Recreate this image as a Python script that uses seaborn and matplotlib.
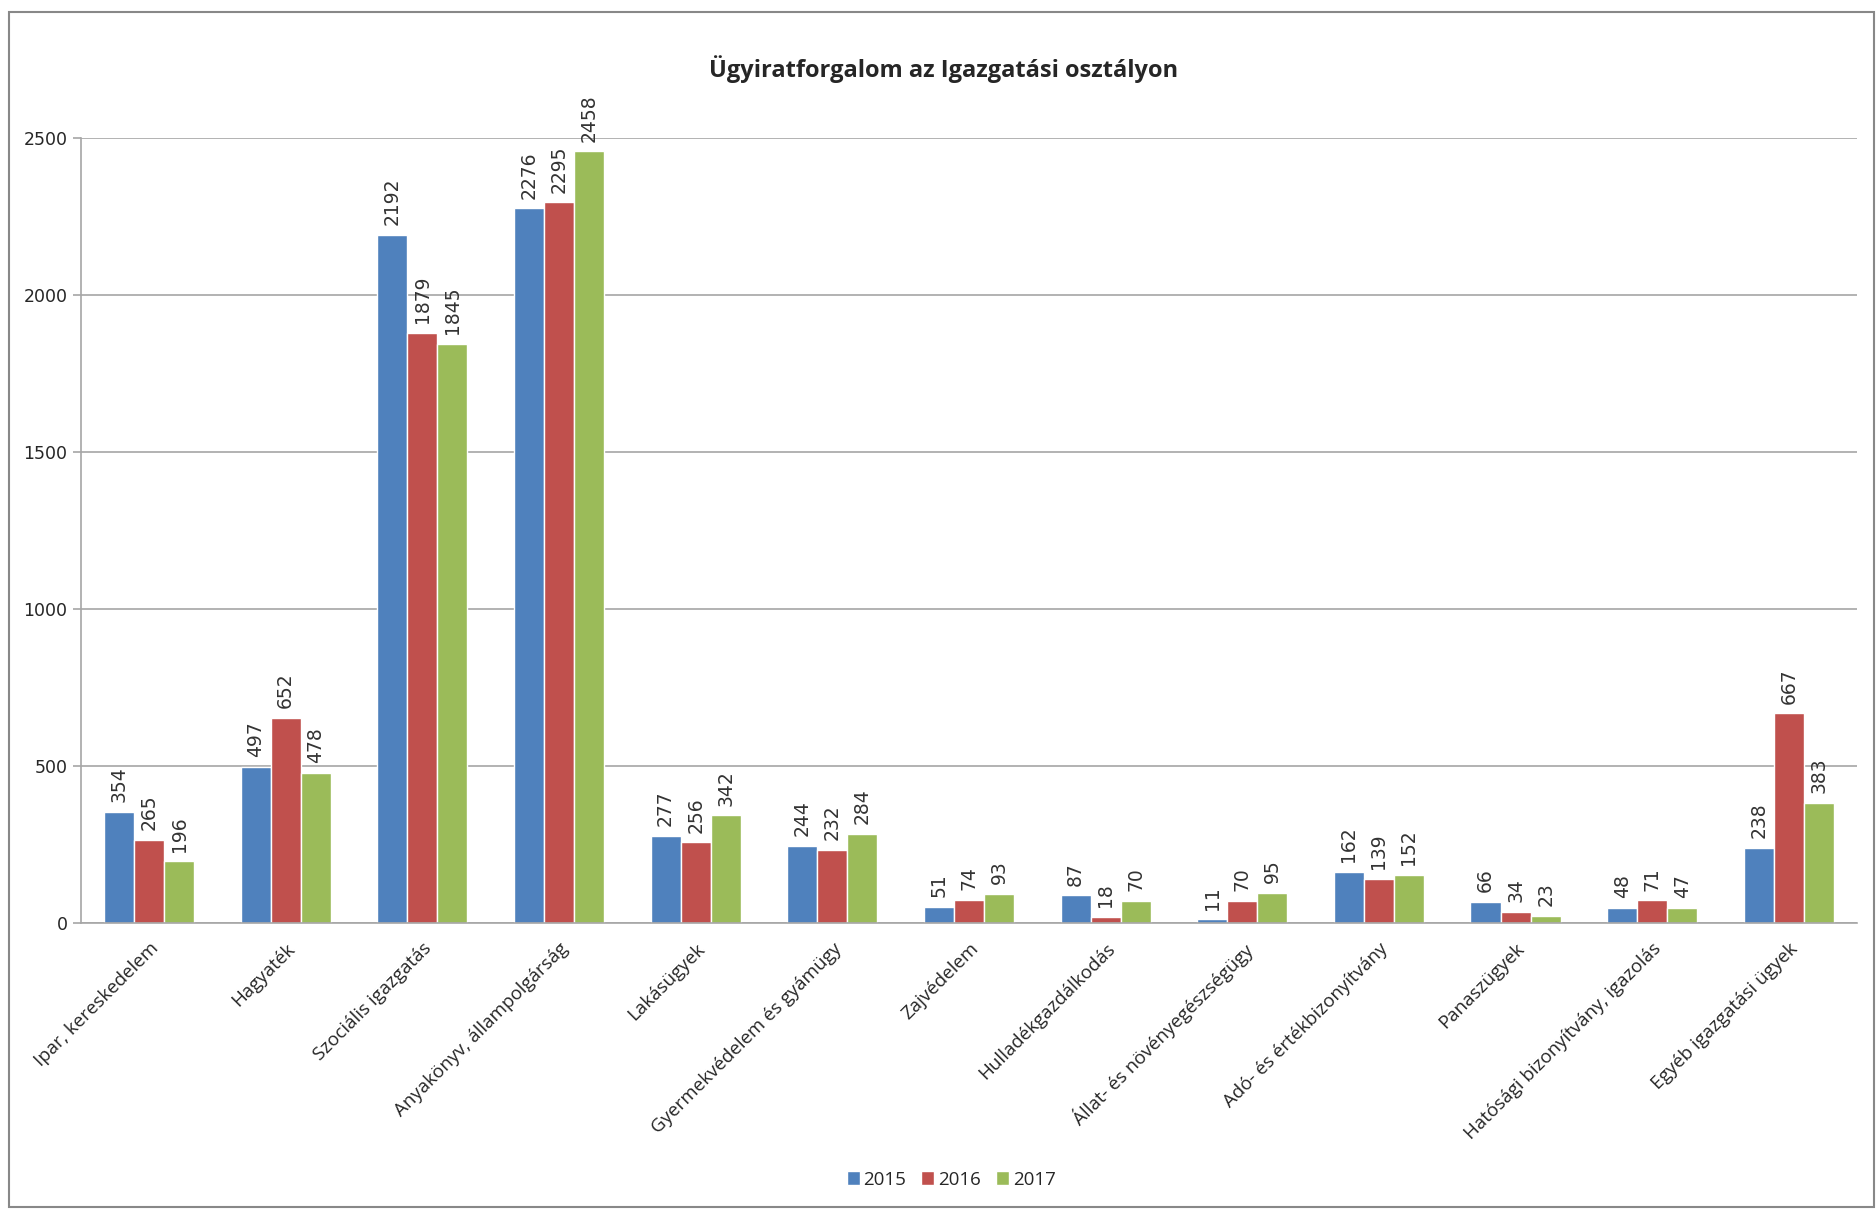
"""Ügyiratforgalom bar chart"""

import pandas as pd
import seaborn as sns
from matplotlib import pyplot as plt
from matplotlib.patches import Rectangle

categories = [
    "Ipar, kereskedelem", "Hagyaték", "Szociális igazgatás",
    "Anyakönyv, állampolgárság", "Lakásügyek", "Gyermekvédelem és gyámügy",
    "Zajvédelem", "Hulladékgazdálkodás", "Állat- és növényegészségügy",
    "Adó- és értékbizonyítvány", "Panaszügyek",
    "Hatósági bizonyítvány, igazolás", "Egyéb igazgatási ügyek",
]
years = ["2015", "2016", "2017"]
v2015 = [354, 497, 2192, 2276, 277, 244, 51, 87, 11, 162, 66, 48, 238]
v2016 = [265, 652, 1879, 2295, 256, 232, 74, 18, 70, 139, 34, 71, 667]
v2017 = [196, 478, 1845, 2458, 342, 284, 93, 70, 95, 152, 23, 47, 383]
yticks = [0, 500, 1000, 1500, 2000, 2500]
colors = ["#4F81BD", "#C0504D", "#9BBB59"]

df = pd.concat([
    pd.DataFrame({"cat": categories, "year": y, "value": v})
    for y, v in zip(years, [v2015, v2016, v2017])
])

sns.set_style("white")
plt.rcParams["font.family"] = ["Open Sans", "DejaVu Sans"]

fig = plt.figure(figsize=(18.76, 12.11), dpi=100)
ax = fig.add_axes([0.043, 0.238, 0.947, 0.648])

sns.barplot(data=df, x="cat", y="value", hue="year", palette=colors,
            width=0.66, saturation=1, ax=ax, legend=True)

for cont in ax.containers:
    ax.bar_label(cont, rotation=90, padding=7, fontsize=13.5,
                 family="DejaVu Sans", color="#333333", clip_on=False)

ax.set_ylim(0, 2500)
ax.set_xlim(-0.5, len(categories) - 0.5)
ax.set_yticks(yticks)
ax.set_yticklabels([str(t) for t in yticks], fontsize=12.5,
                   family="Liberation Sans Narrow")
ax.yaxis.grid(True, color="#A6A6A6", lw=1.2)
ax.set_axisbelow(True)

# category labels, and boundary ticks like the spreadsheet axis
ax.set_xticks(range(len(categories)))
ax.set_xticklabels(categories, rotation=45, ha="right",
                   rotation_mode="anchor", fontsize=13.5)
ax.tick_params(axis="x", which="major", length=0, pad=12)
ax.set_xticks([i + 0.5 for i in range(-1, len(categories))], minor=True)
ax.tick_params(axis="x", which="minor", length=8, color="#A6A6A6", width=1.2)
ax.tick_params(axis="y", length=6, color="#A6A6A6", width=1.2, left=True)

for side in ["top", "right"]:
    ax.spines[side].set_visible(False)
for side in ["left", "bottom"]:
    ax.spines[side].set_color("#A6A6A6")
    ax.spines[side].set_linewidth(1.2)

ax.set_xlabel(None)
ax.set_ylabel(None)

fig.suptitle("Ügyiratforgalom az Igazgatási osztályon", x=0.503, y=0.943,
             fontsize=17, fontweight="bold", va="center")

handles, labels = ax.get_legend_handles_labels()
ax.legend_.remove()
fig.legend(handles, labels, loc="center", bbox_to_anchor=(0.507, 0.026),
           ncol=3, frameon=False, fontsize=13.5, handlelength=0.7,
           handleheight=0.7, handletextpad=0.2, columnspacing=0.8)

# outer chart border
fig.add_artist(Rectangle((0.005, 0.003), 0.994, 0.987, transform=fig.transFigure,
                         fill=False, edgecolor="#888888", lw=1.5))

plt.savefig("out.png", dpi=100)
